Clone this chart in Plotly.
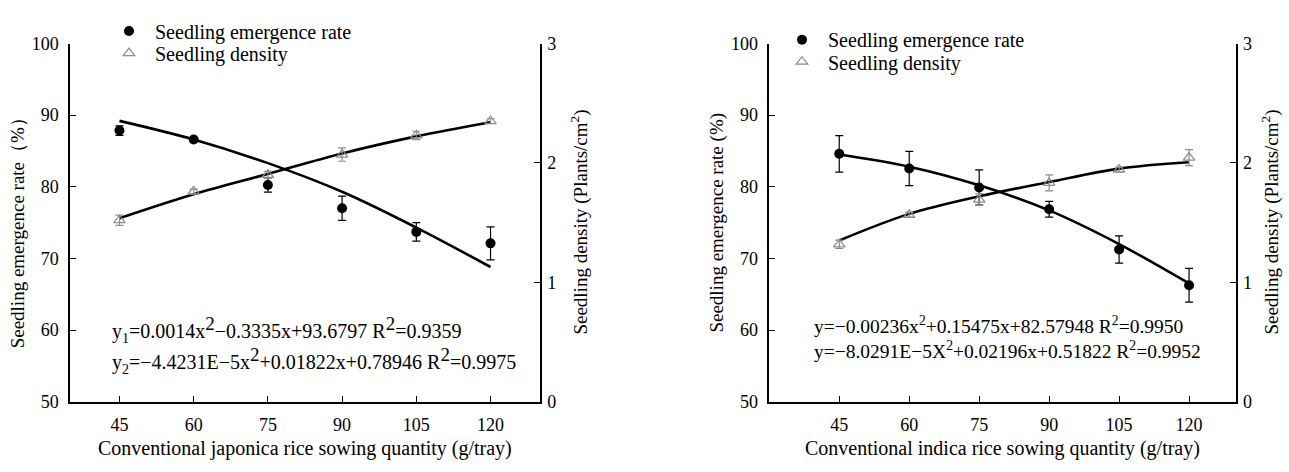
import plotly.graph_objects as go

# ---------------- data ----------------
sowing = [45, 60, 75, 90, 105, 120]

# Conventional japonica rice (left panel)
jap_rate = [87.85, 86.6, 80.25, 77.0, 73.7, 72.1]
jap_rate_err = [0.66, 0.25, 1.0, 1.7, 1.3, 2.3]
jap_density = [1.52, 1.76, 1.90, 2.07, 2.23, 2.35]
jap_density_err = [0.043, 0.02, 0.03, 0.056, 0.035, 0.02]
jap_rate_fit = [89.2, 86.6, 83.3, 79.3, 74.3, 68.8]
jap_density_fit = [1.537, 1.738, 1.908, 2.079, 2.222, 2.340]

# Conventional indica rice (right panel)
ind_rate = [84.6, 82.55, 79.9, 76.85, 71.25, 66.25]
ind_rate_err = [2.55, 2.4, 2.45, 1.1, 1.9, 2.35]
ind_density = [1.318, 1.565, 1.693, 1.832, 1.944, 2.045]
ind_density_err = [0.035, 0.02, 0.05, 0.067, 0.02, 0.067]
ind_rate_fit = [84.5, 82.8, 80.2, 76.7, 72.0, 66.5]
ind_density_fit = [1.35, 1.573, 1.72, 1.84, 1.952, 2.005]

x_ticks = [45, 60, 75, 90, 105, 120]
rate_ticks = [50, 60, 70, 80, 90, 100]
density_ticks = [0, 1, 2, 3]

name_rate = "Seedling emergence rate"
name_density = "Seedling density"

W, H = 1289, 472
FONT = "Liberation Serif, Times New Roman, serif"
GRAY = "#8c8c8c"


def px_x(p):
    return p / W


def px_y(p):
    return 1 - p / H


fig = go.Figure()


def add_panel(xa, ya_rate, ya_dens, rate, rate_err, dens, dens_err, rate_fit, dens_fit,
              leg_rate, leg_dens):
    fig.add_trace(go.Scatter(x=sowing, y=rate_fit, mode="lines", xaxis=xa, yaxis=ya_rate,
                             line=dict(color="black", width=2.6, shape="spline"),
                             showlegend=False, hoverinfo="skip"))
    fig.add_trace(go.Scatter(x=sowing, y=dens_fit, mode="lines", xaxis=xa, yaxis=ya_dens,
                             line=dict(color="black", width=2.6, shape="spline"),
                             showlegend=False, hoverinfo="skip"))
    fig.add_trace(go.Scatter(x=sowing, y=rate, mode="markers", name=name_rate,
                             xaxis=xa, yaxis=ya_rate, legend=leg_rate,
                             marker=dict(symbol="circle", size=10, color="black"),
                             error_y=dict(type="data", array=rate_err, color="black",
                                          thickness=1.2, width=4)))
    fig.add_trace(go.Scatter(x=sowing, y=dens, mode="markers", name=name_density,
                             xaxis=xa, yaxis=ya_dens, legend=leg_dens,
                             marker=dict(symbol="triangle-up-open", size=10, color=GRAY,
                                         line=dict(width=1.2, color=GRAY)),
                             error_y=dict(type="data", array=dens_err, color=GRAY,
                                          thickness=1.2, width=4)))


add_panel("x", "y", "y2", jap_rate, jap_rate_err, jap_density, jap_density_err,
          jap_rate_fit, jap_density_fit, "legend", "legend2")
add_panel("x2", "y3", "y4", ind_rate, ind_rate_err, ind_density, ind_density_err,
          ind_rate_fit, ind_density_fit, "legend3", "legend4")

ydom = [px_y(409), px_y(35)]
axis_common = dict(showgrid=False, zeroline=False, showline=True, linecolor="black",
                   linewidth=1.5, ticks="inside", ticklen=6, tickwidth=1.3, tickcolor="black",
                   tickfont=dict(family=FONT, size=18, color="black"))


def leg(xp, yp):
    return dict(x=px_x(xp), y=px_y(yp), xanchor="left", yanchor="middle",
                bgcolor="rgba(0,0,0,0)", font=dict(family=FONT, size=20, color="black"),
                itemwidth=42, borderwidth=0)


fig.update_layout(
    width=W, height=H,
    margin=dict(l=0, r=0, t=0, b=0),
    paper_bgcolor="white", plot_bgcolor="white",
    font=dict(family=FONT, size=18, color="black"),
    xaxis=dict(domain=[px_x(70), px_x(540)], range=[35, 130], tickvals=x_ticks,
               anchor="y", ticklabelstandoff=6, **axis_common),
    yaxis=dict(domain=ydom, range=[50, 100], tickvals=rate_ticks, anchor="x",
               ticklabelstandoff=6, **axis_common),
    yaxis2=dict(range=[0, 3], tickvals=density_ticks, overlaying="y", side="right",
                anchor="x", ticklabelstandoff=2, **axis_common),
    xaxis2=dict(domain=[px_x(769.3), px_x(1235.7)], range=[30, 130], tickvals=x_ticks,
                anchor="y3", ticklabelstandoff=6, **axis_common),
    yaxis3=dict(domain=ydom, range=[50, 100], tickvals=rate_ticks, anchor="x2",
                ticklabelstandoff=6, **axis_common),
    yaxis4=dict(range=[0, 3], tickvals=density_ticks, overlaying="y3", side="right",
                anchor="x2", ticklabelstandoff=2, **axis_common),
    legend=leg(103, 22),
    legend2=leg(103, 45),
    legend3=leg(776, 31),
    legend4=leg(776, 54),
    showlegend=True,
)

ann = []


def text_ann(text, x, y, angle=0, size=19):
    ann.append(dict(text=text, x=x, y=y, xref="paper", yref="paper", showarrow=False,
                    textangle=angle, xanchor="center", yanchor="middle",
                    font=dict(family=FONT, size=size, color="black")))


# axis titles
text_ann("Seedling emergence rate（%）", px_x(17), px_y(228), angle=-90)
text_ann("Seedling density (Plants/cm<sup>2</sup>)", px_x(580), px_y(222), angle=-90)
text_ann("Conventional japonica rice sowing quantity (g/tray)", px_x(305), px_y(458), size=20)
text_ann("Seedling emergence rate (%)", px_x(717), px_y(222), angle=-90)
text_ann("Seedling density (Plants/cm<sup>2</sup>)", px_x(1271), px_y(222), angle=-90)
text_ann("Conventional indica rice sowing quantity (g/tray)", px_x(1002.5), px_y(458), size=20)

big2 = "<sup><span style='font-size:19px'>2</span></sup>"
eqs = [
    ("y<sub>1</sub>=0.0014x" + big2 + "−0.3335x+93.6797 R" + big2 + "=0.9359",
     "x", "y", 43.1, 60.1, 20),
    ("y<sub>2</sub>=−4.4231E−5x" + big2 + "+0.01822x+0.78946 R" + big2 + "=0.9975",
     "x", "y", 43.1, 55.7, 20),
    ("y=−0.00236x<sup>2</sup>+0.15475x+82.57948 R<sup>2</sup>=0.9950",
     "x2", "y3", 39.1, 60.7, 19.5),
    ("y=−8.0291E−5X<sup>2</sup>+0.02196x+0.51822 R<sup>2</sup>=0.9952",
     "x2", "y3", 39.1, 57.2, 19.5),
]
for t, xr, yr, xv, yv, fs in eqs:
    ann.append(dict(text=t, x=xv, y=yv, xref=xr, yref=yr, showarrow=False,
                    xanchor="left", yanchor="middle",
                    font=dict(family=FONT, size=fs, color="black")))

fig.update_layout(annotations=ann)

fig.write_html("out.html", config={"displayModeBar": False},
               post_script="document.body.style.margin='0';document.body.style.overflow='hidden';")
